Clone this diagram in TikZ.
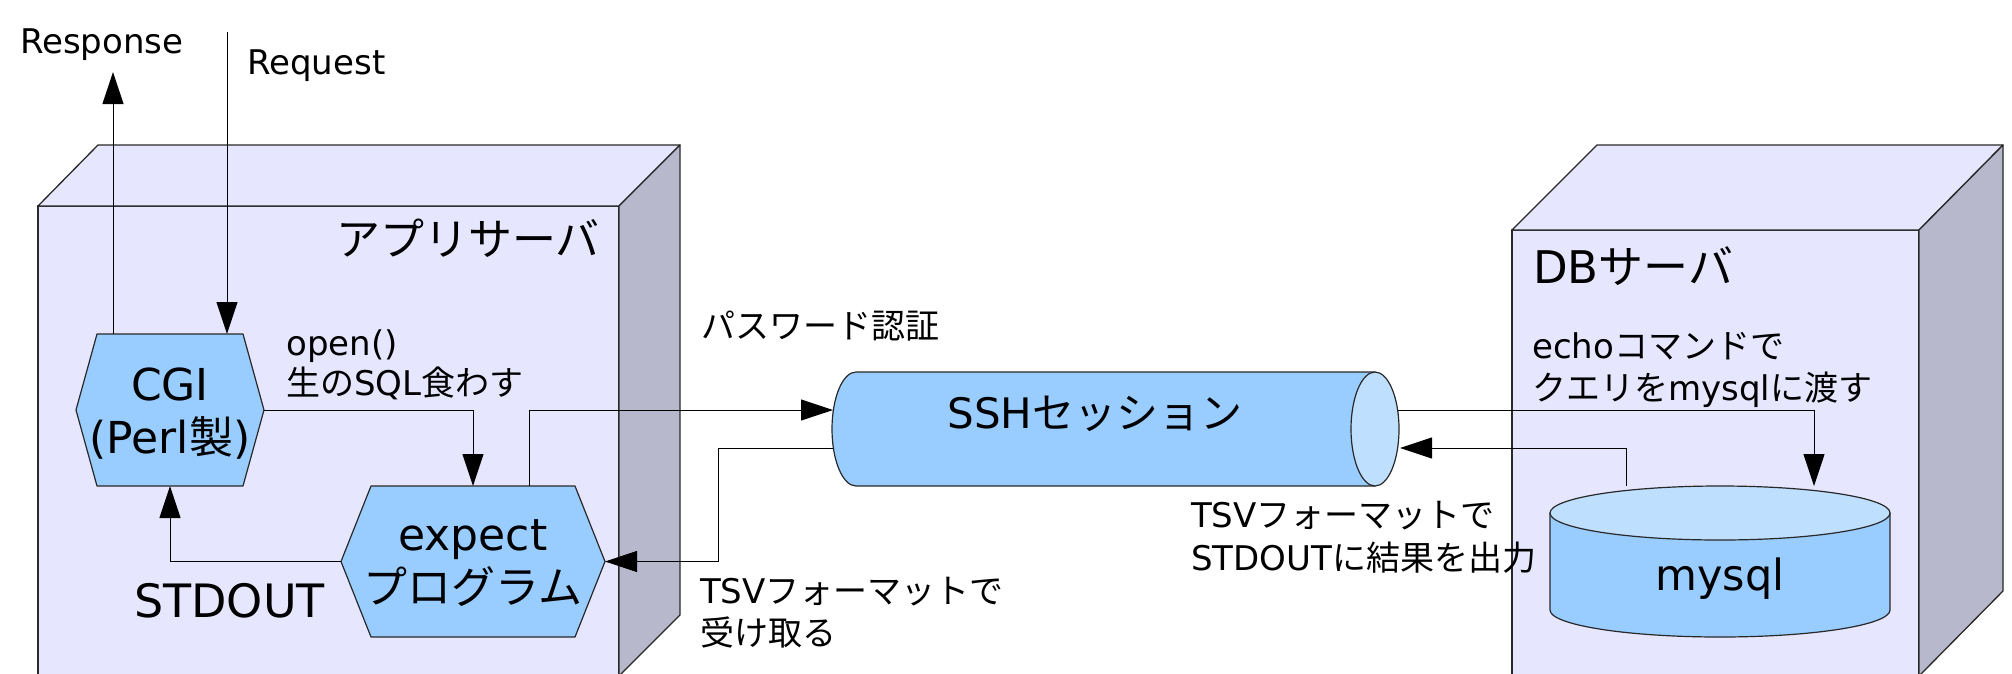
\documentclass[tikz,border=0pt]{standalone}
\usepackage{fontspec}
\setmainfont{DejaVu Sans}
\newfontfamily\jpfont{Noto Sans CJK JP}
\newcommand\jt[1]{{\jpfont #1}}
\usetikzlibrary{arrows.meta,calc}
\definecolor{face}{RGB}{230,230,255}
\definecolor{side}{RGB}{184,184,204}
\definecolor{shapeblue}{RGB}{153,204,255}
\definecolor{lightblue}{RGB}{191,223,255}
\definecolor{edge}{RGB}{40,40,40}
\tikzset{
  conn/.style={draw=black, line width=1pt, -{Triangle[length=32pt,width=21pt]}},
  boxface/.style={fill=face, draw=edge, line width=1.3pt, line join=round},
  boxside/.style={fill=side, draw=edge, line width=1.3pt, line join=round},
  blueshape/.style={fill=shapeblue, draw=edge, line width=1.2pt, line join=round},
  endface/.style={fill=lightblue, draw=edge, line width=1.2pt},
  anchorbox/.style={inner sep=0pt, outer sep=0pt, draw=none},
  mid/.style={font=\fontsize{34}{42}\selectfont, inner sep=0pt},
  big/.style={font=\fontsize{44}{53}\selectfont, inner sep=0pt},
}
\begin{document}
\begin{tikzpicture}[x=1pt,y=-1pt]
\useasboundingbox (0,0) rectangle (2012,673);
\clip (0,0) rectangle (2012,673);

% application server box
\path[boxface] (38,206) rectangle (619,676);
\path[boxface] (38,206) -- (98,145) -- (680,145) -- (619,206) -- cycle;
\path[boxside] (619,206) -- (680,145) -- (680,615) -- (619,676) -- cycle;

% DB server box
\path[boxface] (1512,230) rectangle (1919,676);
\path[boxface] (1512,230) -- (1597,145) -- (2003,145) -- (1919,230) -- cycle;
\path[boxside] (1919,230) -- (2003,145) -- (2003,591) -- (1919,676) -- cycle;

% CGI hexagon
\node[anchorbox, minimum width=188pt, minimum height=152pt] (cgi) at (170,410) {};
\path[blueshape] ($(cgi.north west)+(21,0)$) -- ($(cgi.north east)+(-21,0)$) -- (cgi.east)
  -- ($(cgi.south east)+(-21,0)$) -- ($(cgi.south west)+(21,0)$) -- (cgi.west) -- cycle;
\node[big, align=center, anchor=base] (tcgi) at (170,453) {CGI\\(Perl\jt{製})};

% expect hexagon
\node[anchorbox, minimum width=264pt, minimum height=151pt] (exp) at (473,561.5) {};
\path[blueshape] ($(exp.north west)+(30,0)$) -- ($(exp.north east)+(-30,0)$) -- (exp.east)
  -- ($(exp.south east)+(-30,0)$) -- ($(exp.south west)+(30,0)$) -- (exp.west) -- cycle;
\node[big, align=center, anchor=base] (texp) at (473,603) {expect\\\jt{プログラム}};

% SSH cylinder
\node[anchorbox, minimum width=567pt, minimum height=114pt] (ssh) at (1115.5,429) {};
\path[blueshape] (1375,372) -- (856,372) arc[start angle=270, end angle=90, x radius=24, y radius=57] -- (1375,486) -- cycle;
\path[endface] (1375,429) ellipse [x radius=24, y radius=57];
\node[font=\fontsize{42}{42}\selectfont, inner sep=0pt, anchor=base] (tssh) at (1095,428) {SSH\jt{セッション}};

% mysql cylinder
\node[anchorbox, minimum width=340pt, minimum height=151pt] (db) at (1720,561.5) {};
\path[blueshape] (1550,513) -- (1550,610) arc[start angle=180, end angle=0, x radius=170, y radius=27] -- (1890,513) -- cycle;
\path[endface] (1720,513) ellipse [x radius=170, y radius=27];
\node[font=\fontsize{43}{43}\selectfont, inner sep=0pt, anchor=base] (tmy) at (1720,590) {mysql};

% connectors
\coordinate (respEnd) at (113,72);
\coordinate (reqStart) at (227,32);
\draw[conn] ($(cgi.north west)+(37,0)$) -- (respEnd);
\draw[conn] (reqStart) -- (reqStart |- cgi.north);
\draw[conn] (cgi.east) -| (exp.north);
\draw[conn] (exp.west) -| (cgi.south);
\draw[conn] ($(exp.north)+(56,0)$) |- ($(ssh.west)+(1,-19)$);
\draw[conn] ($(ssh.west)+(1,19)$) -| ($(exp.east)+(113,0)$) -- (exp.east);
\draw[conn] ($(ssh.east)+(-1,-19)$) -| ($(db.north)+(94,0)$);
\draw[conn] ($(db.north)+(-94,0)$) |- ($(ssh.east)+(1,19)$);

% labels
\node[mid, anchor=base west] (tresp) at (20,53) {Response};
\node[mid, anchor=base west] (treq) at (247,74) {Request};
\node[big, anchor=base east] (tapp) at (600,255) {\jt{アプリサーバ}};
\node[font=\fontsize{34}{40}\selectfont, inner sep=0pt, anchor=base west, align=left] (topen) at (286,395) {open()\\\jt{生の}SQL\jt{食わす}};
\node[font=\fontsize{46}{46}\selectfont, inner sep=0pt, anchor=base west] (tstd) at (134,617) {STDOUT};
\node[mid, anchor=base west] (tpw) at (701,338) {\jt{パスワード認証}};
\node[font=\fontsize{34}{43}\selectfont, inner sep=0pt, anchor=base west, align=left] (ttsv1) at (1191,570) {TSV\jt{フォーマットで}\\STDOUT\jt{に結果を出力}};
\node[font=\fontsize{34}{42}\selectfont, inner sep=0pt, anchor=base west, align=left] (ttsv2) at (700,645) {TSV\jt{フォーマットで}\\\jt{受け取る}};
\node[font=\fontsize{45}{45}\selectfont, inner sep=0pt, anchor=base west] (tdb) at (1533,283) {DB\jt{サーバ}};
\node[font=\fontsize{34}{42}\selectfont, inner sep=0pt, anchor=base west, align=left] (techo) at (1532,400) {echo\jt{コマンドで}\\\jt{クエリを}mysql\jt{に渡す}};
\end{tikzpicture}
\end{document}
